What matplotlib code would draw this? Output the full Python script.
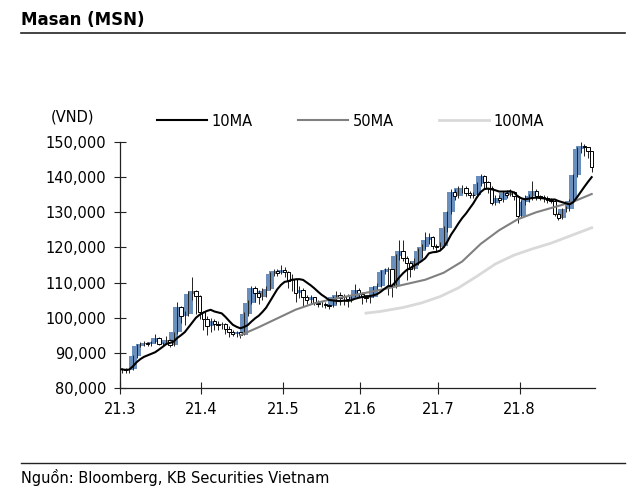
import matplotlib.pyplot as plt
from matplotlib.lines import Line2D
import pandas as pd

# daily prices, thousand VND (Mar - Aug 2021)
closes = [85.3, 85.0, 85.4, 89.0, 92.0, 92.6, 92.8, 92.4, 93.0, 94.2,
          92.6, 92.8, 93.6, 92.3, 95.8, 103.0, 100.5, 101.0, 106.8, 107.5,
          106.2, 101.5, 99.5, 97.5, 99.0, 98.3, 97.8, 98.2, 96.8, 96.0,
          95.3, 95.8, 95.2, 101.0, 104.2, 108.5, 107.0, 105.8, 107.5, 108.2,
          112.5, 113.2, 112.8, 113.5, 113.0, 110.5, 111.0, 107.0, 108.0, 106.0,
          105.0, 105.8, 104.2, 103.8, 104.0, 103.5, 103.2, 105.8, 106.5, 105.5,
          106.2, 105.2, 106.0, 108.0, 106.8, 105.8, 105.5, 106.0, 108.6, 109.0,
          113.0, 113.5, 113.8, 109.0, 117.5, 119.0, 117.0, 115.5, 114.0, 116.0,
          119.0, 120.2, 122.0, 123.0, 120.5, 120.0, 120.5, 125.5, 130.0, 135.8,
          134.5, 136.8, 137.0, 135.5, 135.0, 134.8, 138.0, 140.2, 138.5, 137.0,
          132.5, 134.0, 133.5, 135.5, 135.0, 135.8, 134.5, 129.0, 133.0, 134.0,
          134.5, 136.0, 134.5, 134.3, 134.0, 133.5, 133.2, 129.5, 128.5, 130.8,
          131.0, 133.2, 140.5, 148.0, 149.0, 148.5, 147.5, 143.0]
highs = [85.8, 85.6, 85.8, 89.5, 92.5, 93.0, 93.5, 93.2, 93.5, 95.5,
         94.5, 93.2, 94.8, 93.8, 96.0, 104.5, 103.2, 102.0, 107.5, 111.6,
         108.0, 106.5, 102.0, 100.5, 100.0, 99.5, 99.0, 98.8, 98.5, 97.5,
         96.5, 96.3, 96.0, 101.5, 105.0, 109.0, 109.0, 108.0, 108.5, 109.0,
         113.0, 113.8, 113.8, 115.0, 114.5, 113.2, 112.5, 111.2, 109.0, 108.5,
         106.5, 106.5, 106.0, 105.0, 104.8, 104.5, 104.0, 106.3, 107.5, 107.2,
         106.8, 106.8, 106.6, 109.5, 108.5, 107.2, 106.3, 106.5, 109.0, 110.0,
         113.5, 114.2, 114.5, 114.0, 118.0, 122.0, 122.0, 117.5, 116.0, 117.0,
         119.8, 121.0, 124.5, 124.0, 123.2, 121.0, 121.5, 126.0, 130.5, 136.5,
         136.5, 137.5, 137.8, 137.5, 136.0, 135.8, 138.5, 141.0, 140.5, 139.0,
         137.5, 134.8, 135.0, 136.0, 136.2, 136.5, 136.0, 134.8, 133.5, 135.0,
         135.2, 139.0, 136.5, 135.0, 135.0, 134.5, 134.0, 133.5, 130.0, 131.2,
         131.8, 133.8, 141.0, 148.5, 150.0, 149.5, 148.5, 147.5]
lows = [84.2, 84.2, 84.3, 85.2, 88.5, 91.8, 92.0, 92.0, 92.0, 92.8,
        92.2, 92.0, 92.5, 91.8, 92.0, 95.5, 98.5, 98.0, 100.5, 105.0,
        101.0, 99.5, 96.5, 95.0, 96.0, 96.5, 96.5, 96.8, 95.5, 94.5,
        94.8, 94.5, 94.3, 95.0, 100.5, 104.0, 104.5, 104.0, 105.0, 106.0,
        108.0, 112.0, 112.0, 112.5, 111.5, 108.5, 107.5, 104.5, 105.5, 103.0,
        104.0, 104.0, 103.5, 103.0, 103.0, 102.8, 102.5, 103.0, 104.0, 103.5,
        103.5, 103.0, 104.5, 105.8, 106.0, 104.0, 104.5, 104.2, 105.8, 108.0,
        108.8, 112.5, 106.5, 106.0, 108.5, 116.5, 116.0, 110.7, 111.5, 113.5,
        115.0, 117.0, 119.5, 121.0, 119.5, 119.0, 119.5, 120.0, 124.5, 129.5,
        133.5, 134.0, 135.5, 134.5, 134.0, 134.0, 134.5, 137.5, 137.0, 135.5,
        132.0, 132.0, 132.5, 133.0, 134.0, 134.5, 133.5, 127.0, 128.5, 132.0,
        133.0, 133.5, 133.5, 133.5, 133.0, 132.5, 132.5, 129.0, 127.8, 128.0,
        130.2, 130.5, 132.8, 140.0, 147.0, 146.0, 145.5, 141.5]
opens = [85.5] + closes[:-1]

# longer moving averages (trading-day index, value)
ma50_days = [32, 37, 42, 47, 52, 57, 62, 67, 72, 77, 82, 87, 92, 97, 102, 107, 112, 117, 122, 127]
ma50_vals = [95.0, 97.3, 99.8, 102.3, 104.1, 105.3, 106.3, 107.3, 108.4, 109.6,
             110.8, 112.8, 116.0, 121.0, 124.9, 128.0, 130.0, 131.5, 133.0, 135.2]
ma100_days = [66, 70, 76, 81, 86, 91, 96, 101, 106, 111, 116, 121, 127]
ma100_vals = [101.3, 101.8, 102.9, 104.2, 106.0, 108.5, 111.8, 115.3, 117.8, 119.6,
              121.2, 123.2, 125.6]

tick_days = [0, 22, 44, 65, 86, 108]
tick_labels = ['21.3', '21.4', '21.5', '21.6', '21.7', '21.8']

blue = '#6a8fbd'

fig = plt.figure(figsize=(6.4, 4.92), dpi=100)
ax = fig.add_axes([0.1875, 0.2114, 0.7422, 0.5])

x = [i + 0.5 for i in range(len(closes))]
up = [c >= o for o, c in zip(opens, closes)]

# up bars first, then high-low lines, then hollow down bars
for xi, o, c, u in zip(x, opens, closes, up):
    if u:
        ax.bar(xi, (c - o) * 1000, bottom=o * 1000, width=2.3, color=blue,
               linewidth=0, zorder=2)
ax.vlines(x, [v * 1000 for v in lows], [v * 1000 for v in highs],
          color='#222222', linewidth=0.7, zorder=3)
for xi, o, c, u in zip(x, opens, closes, up):
    if not u:
        ax.bar(xi, (o - c) * 1000, bottom=c * 1000, width=0.9, color='white',
               edgecolor='black', linewidth=0.7, zorder=4)

ma10 = pd.Series(closes).rolling(10, min_periods=1).mean() * 1000
ax.plot([d + 0.5 for d in ma100_days], [v * 1000 for v in ma100_vals],
        color='#d9d9d9', linewidth=2, zorder=5)
ax.plot([d + 0.5 for d in ma50_days], [v * 1000 for v in ma50_vals],
        color='#808080', linewidth=1.5, zorder=5)
ax.plot(x, ma10, color='black', linewidth=1.5, zorder=6)

ax.set_xlim(0, 128.4)
ax.set_ylim(80000, 150000)
ax.set_yticks(range(80000, 150001, 10000))
ax.yaxis.set_major_formatter(plt.FuncFormatter(lambda v, p: f'{v:,.0f}'))
ax.set_xticks(tick_days)
ax.set_xticklabels(tick_labels)

for s in ['top', 'right']:
    ax.spines[s].set_visible(False)
for s in ['left', 'bottom']:
    ax.spines[s].set_color('#222222')
    ax.spines[s].set_linewidth(0.9)
ax.tick_params(direction='inout', length=8, width=0.8, labelsize=10.5,
               color='#222222', pad=6)

handles = [Line2D([], [], color='black', lw=1.5),
           Line2D([], [], color='#808080', lw=1.5),
           Line2D([], [], color='#d9d9d9', lw=2)]
fig.legend(handles, ['10MA', '50MA', '100MA'], loc='center left',
           bbox_to_anchor=(157 / 640, 1 - 121 / 492), ncol=3, frameon=False,
           fontsize=10.5, handlelength=3.4, handletextpad=0.35,
           columnspacing=3.1, borderpad=0, borderaxespad=0)

fig.text(72 / 640, 1 - 117 / 492, '(VND)', ha='center', va='center', fontsize=10.5)

fig.text(21 / 640, 1 - 20 / 492, 'Masan (MSN)', ha='left', va='center',
         fontsize=12, fontweight='bold', family='DejaVu Sans')
fig.add_artist(Line2D([21 / 640, 625 / 640], [1 - 33 / 492, 1 - 33 / 492],
                      color='#222222', linewidth=1.2))
fig.add_artist(Line2D([21 / 640, 625 / 640], [1 - 463 / 492, 1 - 463 / 492],
                      color='#222222', linewidth=1.0))
fig.text(21 / 640, 1 - 477 / 492, 'Nguồn: Bloomberg, KB Securities Vietnam',
         ha='left', va='center', fontsize=10.5, family='DejaVu Sans')

fig.savefig('out.png', dpi=100)
